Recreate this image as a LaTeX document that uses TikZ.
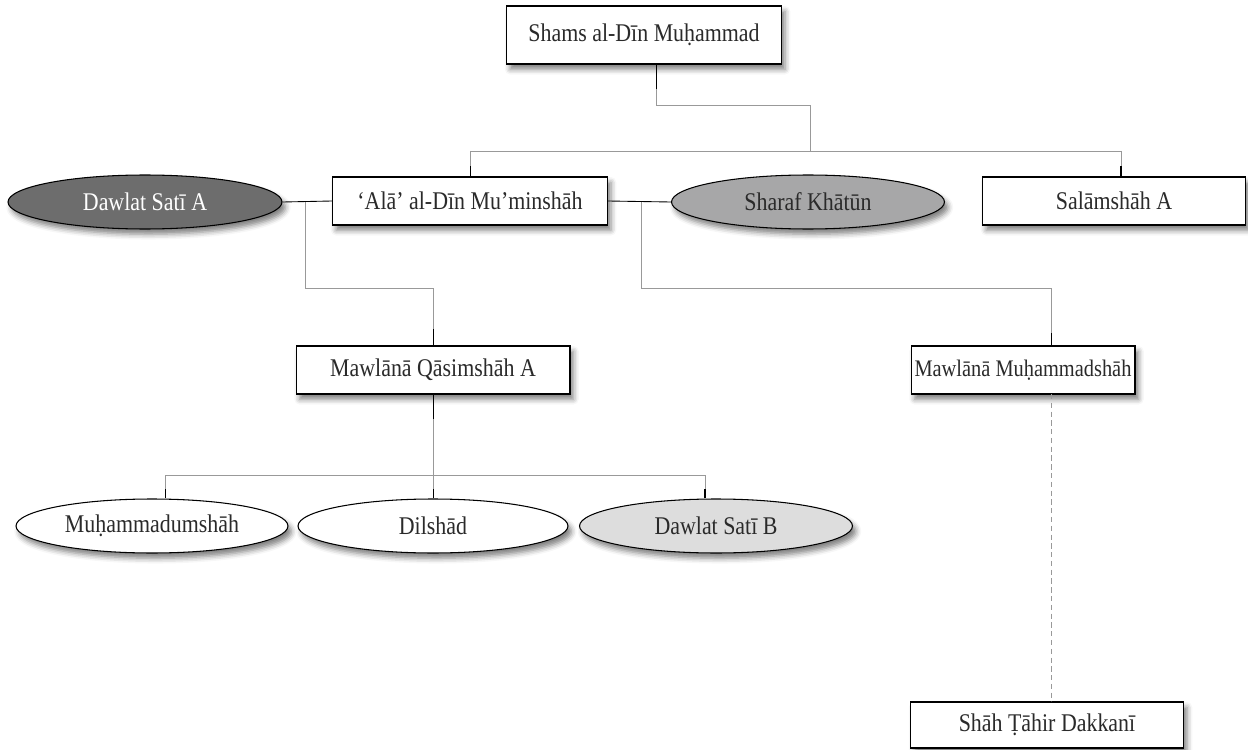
\documentclass[tikz,border=0pt]{standalone}
\usepackage{fontspec}
\setmainfont{Liberation Serif}[FakeStretch=0.86]
\usetikzlibrary{shapes.geometric,shadows.blur}
\definecolor{txtgray}{HTML}{2A2A2A}
\definecolor{linegray}{HTML}{999999}
\definecolor{darkfill}{HTML}{6D6D6D}
\definecolor{midfill}{HTML}{A7A7A8}
\definecolor{lightfill}{HTML}{DDDDDD}
\begin{document}
\begin{tikzpicture}[x=.02cm,y=-.02cm,
  font=\fontsize{14.5}{16}\selectfont, text=txtgray,
  shade/.style={blur shadow={shadow xshift=2pt,shadow yshift=-3pt,shadow blur radius=3pt,shadow opacity=50}},
  box/.style={draw=black,line width=.6pt,fill=white,rectangle,inner sep=0pt,shade},
  oval/.style={draw=black,line width=.6pt,fill=white,ellipse,inner sep=0pt,shade},
  link/.style={draw=linegray,line width=.5pt},
  stub/.style={draw=black,line width=.5pt}]
\useasboundingbox (0,0) rectangle (1248,750);
% generation 1
\node[box,minimum width=5.5cm,minimum height=1.16cm] (shams) at (644,35) {Shams al-Dīn Muḥammad};
% generation 2
\node[box,minimum width=5.5cm,minimum height=.96cm] (ala) at (470,201) {‘Alā’ al-Dīn Mu’minshāh};
\node[oval,fill=darkfill,text=white,minimum width=5.48cm,minimum height=1.08cm] (satia) at (145,202) {Dawlat Satī A};
\node[oval,fill=midfill,minimum width=5.46cm,minimum height=1.08cm] (sharaf) at (808,202) {Sharaf Khātūn};
\node[box,minimum width=5.26cm,minimum height=.96cm] (salam) at (1114,201) {Salāmshāh A};
% generation 3
\node[box,minimum width=5.48cm,minimum height=.96cm] (qasim) at (433,370) {Mawlānā Qāsimshāh A};
\node[box,font=\fontsize{13.5}{16}\selectfont,minimum width=4.48cm,minimum height=.96cm] (muhsh) at (1023,370) {Mawlānā Muḥammadshāh};
% generation 4
\node[oval,minimum width=5.44cm,minimum height=1.08cm] (muhum) at (152,526) {Muḥammadumshāh};
\node[oval,minimum width=5.4cm,minimum height=1.08cm] (dilshad) at (433,526) {Dilshād};
\node[oval,fill=lightfill,minimum width=5.46cm,minimum height=1.08cm] (satib) at (716,526) {Dawlat Satī B};
\node[box,minimum width=5.46cm,minimum height=.92cm] (tahir) at (1047,725) {Shāh Ṭāhir Dakkanī};

% junction points
\coordinate (s1) at (656,65);
\coordinate (s2) at (656,105);
\coordinate (s3) at (810,105);
\coordinate (s4) at (810,151);
\coordinate (j1) at (470,151);
\coordinate (j2) at (1121,151);
\coordinate (a1) at (305,202);
\coordinate (a2) at (305,288);
\coordinate (a3) at (433,288);
\coordinate (b1) at (641,202);
\coordinate (b2) at (641,288);
\coordinate (b3) at (1051,288);
\coordinate (q1) at (433,475);
\coordinate (c1) at (165,475);
\coordinate (c2) at (705,475);
\coordinate (m1) at (1051,394);

% lines of descent
\draw[link] (s1) -- (s2) -- (s3) -- (s4);
\draw[link] (j1) -- (j2);
\draw[link] (j1) -- (ala.north);
\draw[link] (j2) -- (j2 |- salam.north);
\draw[link] (a1) -- (a2) -- (a3) -- (qasim.north);
\draw[link] (b1) -- (b2) -- (b3) -- (b3 |- muhsh.north);
\draw[link] (qasim.south) -- (q1);
\draw[link] (c1) -- (c2);
\draw[link] (c1) -- (c1 |- muhum.north);
\draw[link] (q1) -- (dilshad.north);
\draw[link] (c2) -- (c2 |- satib.north);
\draw[link,dashed,dash pattern=on 3pt off 2pt] (m1) -- (m1 |- tahir.north);
% marriages
\draw[stub] (satia.east) -- (ala.west);
\draw[stub] (ala.east) -- (sharaf.west);
% dark ends near the nodes
\draw[stub] (s1) -- +(0,24);
\draw[stub] (ala.north) -- +(0,-10);
\draw[stub,line width=.9pt] (j2 |- salam.north) -- +(0,-10);
\draw[stub] (qasim.north) -- +(0,-16);
\draw[stub] (qasim.south) -- +(0,24);
\draw[stub] (b3 |- muhsh.north) -- +(0,-12);
\draw[stub] (c1 |- muhum.north) -- +(0,-9);
\draw[stub] (dilshad.north) -- +(0,-9);
\draw[stub,line width=.9pt] (c2 |- satib.north) -- +(0,-9);
\end{tikzpicture}
\end{document}
